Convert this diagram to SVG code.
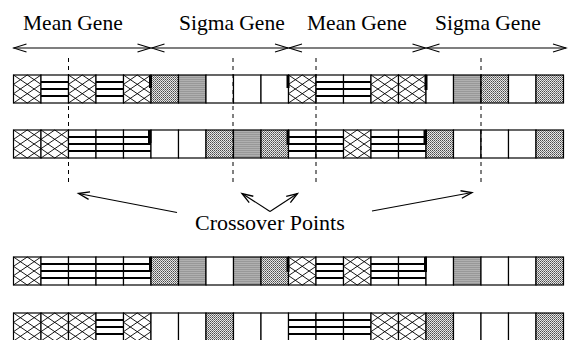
<svg xmlns="http://www.w3.org/2000/svg" xmlns:xlink="http://www.w3.org/1999/xlink" width="569" height="340" viewBox="0 0 569 340">
  <style>
    .label { font-family: "Liberation Serif", "Times New Roman", serif; fill: #000; }
    .gene { font-size: 21.5px; }
    .cross { font-size: 22px; }
    .edge { fill: none; stroke: #000; stroke-width: 1.2; }
    .hatch { fill: none; stroke: #000; stroke-width: 0.9; }
    .bars { fill: none; stroke: #000; stroke-width: 1.8; }
    .span { fill: none; stroke: #000; stroke-width: 1.1; marker-start: url(#open); marker-end: url(#open); }
    .pointer { fill: none; stroke: #000; stroke-width: 1.1; marker-end: url(#openSmall); }
    .cut { fill: none; stroke: #000; stroke-width: 1; stroke-dasharray: 4 4; }
    .seam { fill: #000; }
  </style>
  <defs>
    <!-- halftone grey -->
    <pattern id="dots" patternUnits="userSpaceOnUse" width="2" height="2">
      <rect width="2" height="2" fill="#e6e6e6"/>
      <rect width="1" height="1" fill="#4a4a4a"/>
      <rect x="1" y="1" width="1" height="1" fill="#7a7a7a"/>
    </pattern>
    <marker id="open" viewBox="-15 -6 17 12" refX="0" refY="0" markerWidth="17" markerHeight="12" markerUnits="userSpaceOnUse" orient="auto-start-reverse">
      <path d="M-13,-4 L0,0 L-13,4" fill="none" stroke="#000" stroke-width="1.1"/>
    </marker>
    <marker id="openSmall" viewBox="-13 -6 15 12" refX="0" refY="0" markerWidth="15" markerHeight="12" markerUnits="userSpaceOnUse" orient="auto">
      <path d="M-11,-3.8 L0,0 L-11,3.8" fill="none" stroke="#000" stroke-width="1.3"/>
    </marker>
    <!-- cell types, 27.5 x 28 -->
    <g id="X">
      <rect width="27.5" height="28" fill="#fff"/>
      <path class="hatch" d="M0,0 L27.5,18.67 M0,9.33 L27.5,28 M0,18.67 L13.75,28 M13.75,0 L27.5,9.33 M0,9.33 L13.75,0 M0,18.67 L27.5,0 M0,28 L27.5,9.33 M13.75,28 L27.5,18.67"/>
      <rect class="edge" width="27.5" height="28"/>
    </g>
    <g id="H">
      <rect width="27.5" height="28" fill="#fff"/>
      <path class="bars" d="M0,7 H27.5 M0,14 H27.5 M0,21 H27.5"/>
      <rect class="edge" width="27.5" height="28"/>
    </g>
    <g id="G">
      <rect width="27.5" height="28" fill="url(#dots)"/>
      <rect class="edge" width="27.5" height="28"/>
    </g>
    <g id="W">
      <rect width="27.5" height="28" fill="#fff"/>
      <rect class="edge" width="27.5" height="28"/>
    </g>
  </defs>

  <rect width="569" height="340" fill="#fff"/>

  <!-- gene headings -->
  <g id="heading-mean-1"><text class="label gene" x="23" y="30">Mean Gene</text></g>
  <g id="heading-sigma-1"><text class="label gene" x="179" y="30">Sigma Gene</text></g>
  <g id="heading-mean-2"><text class="label gene" x="307" y="30">Mean Gene</text></g>
  <g id="heading-sigma-2"><text class="label gene" x="435" y="30">Sigma Gene</text></g>

  <!-- parent 1 -->
  <g id="parent-1">
    <use href="#X" x="13.5" y="75"/><use href="#H" x="41" y="75"/><use href="#X" x="68.5" y="75"/><use href="#H" x="96" y="75"/><use href="#X" x="123.5" y="75"/>
    <use href="#G" x="151" y="75"/><use href="#G" x="178.5" y="75"/><use href="#W" x="206" y="75"/><use href="#W" x="233.5" y="75"/><use href="#W" x="261" y="75"/>
    <use href="#X" x="288.5" y="75"/><use href="#H" x="316" y="75"/><use href="#H" x="343.5" y="75"/><use href="#X" x="371" y="75"/><use href="#X" x="398.5" y="75"/>
    <use href="#W" x="426" y="75"/><use href="#G" x="453.5" y="75"/><use href="#G" x="481" y="75"/><use href="#W" x="508.5" y="75"/><use href="#G" x="536" y="75"/>
    <rect class="seam" x="149" y="75" width="3" height="13"/>
    <rect class="seam" x="286.5" y="75" width="3" height="13"/>
    <rect class="seam" x="424.5" y="75" width="3" height="15"/>
  </g>

  <!-- parent 2 -->
  <g id="parent-2">
    <use href="#X" x="13.5" y="130"/><use href="#X" x="41" y="130"/><use href="#H" x="68.5" y="130"/><use href="#H" x="96" y="130"/><use href="#H" x="123.5" y="130"/>
    <use href="#W" x="151" y="130"/><use href="#W" x="178.5" y="130"/><use href="#G" x="206" y="130"/><use href="#G" x="233.5" y="130"/><use href="#G" x="261" y="130"/>
    <use href="#H" x="288.5" y="130"/><use href="#H" x="316" y="130"/><use href="#X" x="343.5" y="130"/><use href="#H" x="371" y="130"/><use href="#H" x="398.5" y="130"/>
    <use href="#G" x="426" y="130"/><use href="#W" x="453.5" y="130"/><use href="#W" x="481" y="130"/><use href="#W" x="508.5" y="130"/><use href="#G" x="536" y="130"/>
    <rect class="seam" x="148" y="130" width="3.5" height="13"/>
    <rect class="seam" x="286.5" y="130" width="3" height="15"/>
    <rect class="seam" x="423.5" y="130" width="3.5" height="15"/>
  </g>

  <!-- crossover cut lines and pointers -->
  <g id="connectors">
    <path class="span" d="M13.5,48 H150.5"/>
    <path class="span" d="M151.5,48 H288"/>
    <path class="span" d="M289,48 H425.5"/>
    <path class="span" d="M426.5,48 H566"/>
    <path class="cut" d="M68.5,58 V186"/>
    <path class="cut" d="M233,58 V186"/>
    <path class="cut" d="M316,58 V186"/>
    <path class="cut" d="M481,58 V186"/>
    <path class="pointer" d="M177,212.5 L78.5,193.5"/>
    <path class="pointer" d="M270,211.5 L242,193.5"/>
    <path class="pointer" d="M270,211.5 L297.5,193.5"/>
    <path class="pointer" d="M372,211 L472,192.5"/>
  </g>

  <g id="crossover-label"><text class="label cross" x="195" y="230">Crossover Points</text></g>

  <!-- offspring 1 -->
  <g id="child-1">
    <use href="#X" x="13.5" y="257"/><use href="#H" x="41" y="257"/><use href="#H" x="68.5" y="257"/><use href="#H" x="96" y="257"/><use href="#H" x="123.5" y="257"/>
    <use href="#G" x="151" y="257"/><use href="#G" x="178.5" y="257"/><use href="#W" x="206" y="257"/><use href="#G" x="233.5" y="257"/><use href="#G" x="261" y="257"/>
    <use href="#X" x="288.5" y="257"/><use href="#H" x="316" y="257"/><use href="#X" x="343.5" y="257"/><use href="#H" x="371" y="257"/><use href="#H" x="398.5" y="257"/>
    <use href="#W" x="426" y="257"/><use href="#G" x="453.5" y="257"/><use href="#W" x="481" y="257"/><use href="#W" x="508.5" y="257"/><use href="#G" x="536" y="257"/>
    <rect class="seam" x="149" y="257" width="3" height="15"/>
    <rect class="seam" x="286.5" y="257" width="3" height="15"/>
    <rect class="seam" x="424" y="257" width="3" height="15"/>
  </g>

  <!-- offspring 2 -->
  <g id="child-2">
    <use href="#X" x="13.5" y="313"/><use href="#X" x="41" y="313"/><use href="#X" x="68.5" y="313"/><use href="#H" x="96" y="313"/><use href="#X" x="123.5" y="313"/>
    <use href="#W" x="151" y="313"/><use href="#W" x="178.5" y="313"/><use href="#G" x="206" y="313"/><use href="#W" x="233.5" y="313"/><use href="#W" x="261" y="313"/>
    <use href="#H" x="288.5" y="313"/><use href="#H" x="316" y="313"/><use href="#H" x="343.5" y="313"/><use href="#X" x="371" y="313"/><use href="#X" x="398.5" y="313"/>
    <use href="#G" x="426" y="313"/><use href="#W" x="453.5" y="313"/><use href="#W" x="481" y="313"/><use href="#W" x="508.5" y="313"/><use href="#G" x="536" y="313"/>
  </g>
</svg>
